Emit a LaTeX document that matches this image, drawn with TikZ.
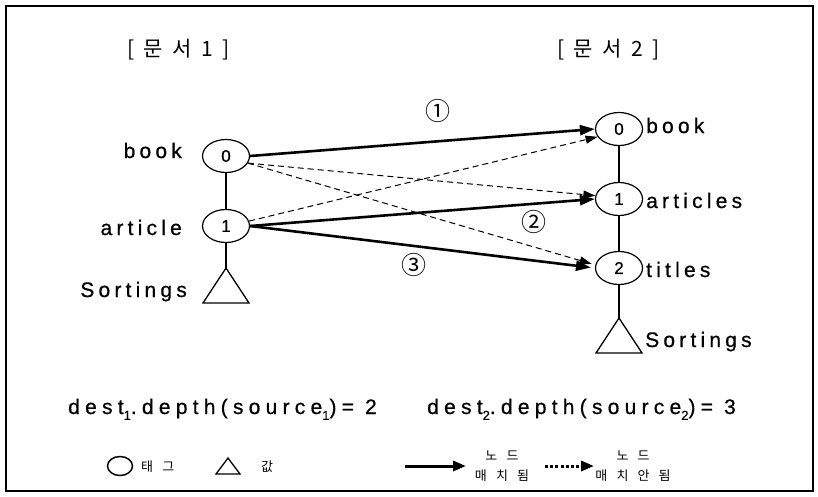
\documentclass[tikz,border=0pt]{standalone}
\usepackage{fontspec}
\usetikzlibrary{arrows.meta,shapes.geometric}
\setmainfont{Liberation Sans}
\newfontfamily\lblfont{Liberation Sans}[LetterSpace=20,FakeBold=0.6]
\newfontfamily\eqfont{Liberation Sans}[LetterSpace=25,FakeBold=0.6]
\newfontfamily\numfont{Liberation Sans}[FakeBold=0.8]
\newfontfamily\krtitle{Noto Sans CJK KR}[LetterSpace=45]
\newfontfamily\krsmall{Noto Sans CJK KR}[LetterSpace=70]
\newfontfamily\krplain{Noto Sans CJK KR}
\newcommand\subidx[1]{\raisebox{-0.28em}{\fontsize{13}{13}\selectfont #1}}

\tikzset{
  tagnode/.style={ellipse, draw, line width=1.2pt, fill=white,
    minimum width=47pt, minimum height=33pt, inner sep=0pt,
    font=\numfont\fontsize{17}{17}\selectfont},
  leftlab/.style={inner sep=0pt, anchor=base east, font=\lblfont\fontsize{21}{21}\selectfont},
  rightlab/.style={inner sep=0pt, anchor=base west, font=\lblfont\fontsize{21}{21}\selectfont},
  titlelab/.style={inner sep=0pt, anchor=west, font=\krtitle\fontsize{21}{21}\selectfont},
  eqlab/.style={inner sep=0pt, anchor=base west, font=\eqfont\fontsize{21}{21}\selectfont},
  circnum/.style={inner sep=0pt, font=\krplain\fontsize{25}{25}\selectfont},
  legtext/.style={inner sep=0pt, font=\krsmall\fontsize{13}{20}\selectfont, align=center},
  treeedge/.style={line width=1.2pt},
  valtri/.style={line width=1.3pt},
  match/.style={line width=2.6pt, -{Triangle[length=15pt,width=10pt]}},
  nomatch/.style={line width=1pt, dash pattern=on 6pt off 4pt,
    -{Triangle[length=12pt,width=8pt]}},
  legmatch/.style={line width=3pt, -{Triangle[length=13pt,width=10pt]}},
  legnomatch/.style={line width=3pt, dash pattern=on 3pt off 2.2pt,
    -{Triangle[length=13pt,width=10pt]}}
}

\begin{document}
\begin{tikzpicture}[x=1pt,y=-1pt]
\useasboundingbox (0,0) rectangle (818,496);
\draw[line width=1.5pt] (6,6) rectangle (813,491);

% document titles
\node[titlelab] (t1) at (127,50) {[문서1]};
\node[titlelab] (t2) at (557,50) {[문서2]};

% tree of document 1
\node[tagnode] (L0) at (226,156) {0};
\node[tagnode] (L1) at (226,226) {1};
\coordinate (LTa) at (226,268);
\draw[treeedge] (L0.south) -- (L1.north);
\draw[treeedge] (L1.south) -- (LTa);
\draw[valtri] (LTa) -- ++(-23,35) -- ++(46,0) -- cycle;
\node[leftlab] (l0) at (182,158) {book};
\node[leftlab] (l1) at (182,235) {article};
\node[leftlab] (l2) at (187,297) {Sortings};

% tree of document 2
\node[tagnode] (R0) at (619,129) {0};
\node[tagnode] (R1) at (619,199) {1};
\node[tagnode] (R2) at (619,268) {2};
\coordinate (RTa) at (619,318);
\draw[treeedge] (R0.south) -- (R1.north);
\draw[treeedge] (R1.south) -- (R2.north);
\draw[treeedge] (R2.south) -- (RTa);
\draw[valtri] (RTa) -- ++(-23,35) -- ++(46,0) -- cycle;
\node[rightlab] (r0) at (646,133) {book};
\node[rightlab] (r1) at (646,208) {articles};
\node[rightlab] (r2) at (646,277) {titles};
\node[rightlab] (r3) at (645,347) {Sortings};

% candidate node matches (not chosen)
\draw[nomatch] (L0.-18) -- (R1.172);
\draw[nomatch] (L0.-18) -- ([xshift=-4pt]R2.170);
\draw[nomatch] (L1.12) -- (R0.200);

% chosen node matches
\draw[match] (L0.east) -- (R0.west);
\draw[match] (L1.east) -- (R1.west);
\draw[match, shorten >=4pt] (L1.east) -- (R2.west);

\node[circnum] (c1) at (438,111) {①};
\node[circnum] (c2) at (534,222) {②};
\node[circnum] (c3) at (414,265) {③};

% depth results
\node[eqlab] (e1) at (68,414) {dest\subidx{1}.depth(source\subidx{1})= 2};
\node[eqlab] (e2) at (427,414) {dest\subidx{2}.depth(source\subidx{2})= 3};

% legend
\node[ellipse, draw, line width=1.5pt, minimum width=25pt, minimum height=19pt, inner sep=0pt] (legtag) at (120,466) {};
\node[legtext, anchor=west] (legtagtxt) at (141,467) {태그};
\coordinate (legtri) at (228,458);
\draw[valtri] (legtri) -- ++(-12,16) -- ++(24,0) -- cycle;
\node[legtext, anchor=west] (legvaltxt) at (261,467) {값};
\coordinate (lma) at (405,466);
\coordinate (lmb) at (466,466);
\draw[legmatch] (lma) -- (lmb);
\node[legtext] (legmtxt) at (502,466) {노드\\매치됨};
\coordinate (lna) at (545,466);
\coordinate (lnb) at (594,466);
\draw[legnomatch] (lna) -- (lnb);
\node[legtext] (legntxt) at (633,466) {노드\\매치안됨};
\end{tikzpicture}
\end{document}
